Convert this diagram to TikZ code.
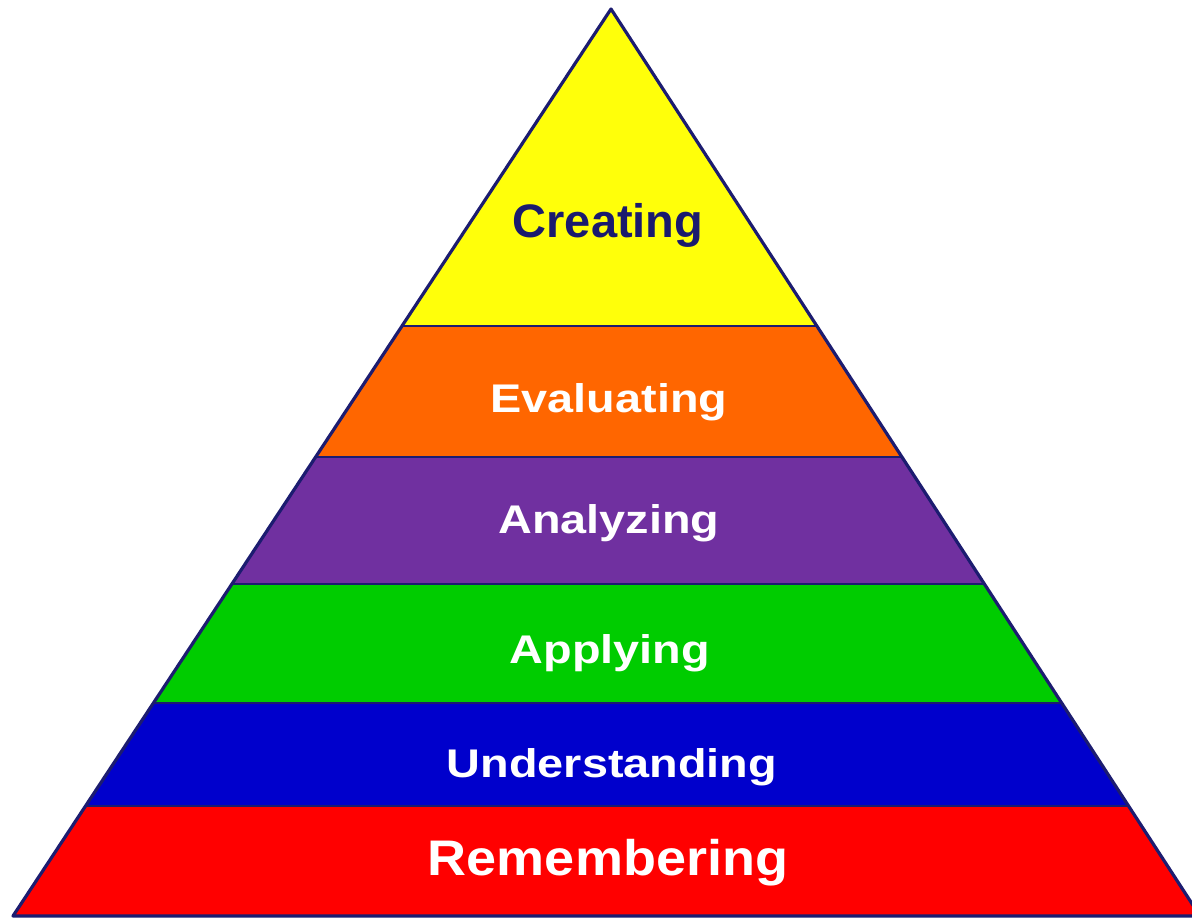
\documentclass[tikz,border=0pt]{standalone}
\usepackage{fontspec}
\setmainfont{Liberation Sans}
\definecolor{edgenavy}{RGB}{28,28,112}
\definecolor{textnavy}{RGB}{26,26,110}
\definecolor{lvlyellow}{RGB}{255,255,10}
\definecolor{lvlorange}{RGB}{255,102,0}
\definecolor{lvlpurple}{RGB}{112,48,160}
\definecolor{lvlgreen}{RGB}{0,204,0}
\definecolor{lvlblue}{RGB}{0,0,204}
\definecolor{lvlred}{RGB}{255,0,0}
\newcommand{\stretchlbl}[2][1.17]{\scalebox{#1}[1]{#2}}
\tikzset{
  lvl/.style={inner sep=0pt,anchor=base,text=white,font=\bfseries\fontsize{20}{24}\selectfont},
}
\begin{document}
\begin{tikzpicture}[x=.5pt,y=-.5pt,line join=round,line cap=round]
			\useasboundingbox (0,0) rectangle (1192,919);
			\path (611,9) coordinate (P)
			(13,916) coordinate (L)
			(1200,916) coordinate (R);
			\begin{scope}
				\clip (P)--(L)--(R)--cycle;
				\foreach \ytop/\ybot/\col in {0/326/lvlyellow,326/457/lvlorange,457/584/lvlpurple,584/703/lvlgreen,703/806/lvlblue,806/919/lvlred}
				\fill [\col] (0,\ytop) rectangle (1200,\ybot);
				\foreach \y in {326,457,584,703,806}
				\draw [edgenavy,line width=1.3pt] (0,\y)--(1200,\y);
			\end{scope}
			\draw [edgenavy,line width=1.6pt] (P)--(L)--(R)--cycle;
			\node [lvl,text=textnavy,font=\bfseries\fontsize{23.5}{28}\selectfont] (creating) at (608,238) {Creating};
			\node [lvl] (evaluating) at (609,412) {\stretchlbl{Evaluating}};
			\node [lvl] (analyzing) at (609,533) {\stretchlbl{Analyzing}};
			\node [lvl] (applying) at (610,663) {\stretchlbl{Applying}};
			\node [lvl] (understanding) at (612,777) {\stretchlbl{Understanding}};
			\node [lvl,font=\bfseries\fontsize{25}{30}\selectfont] (remembering) at (608,875) {\stretchlbl[1.08]{Remembering}};
		\end{tikzpicture}
\end{document}
